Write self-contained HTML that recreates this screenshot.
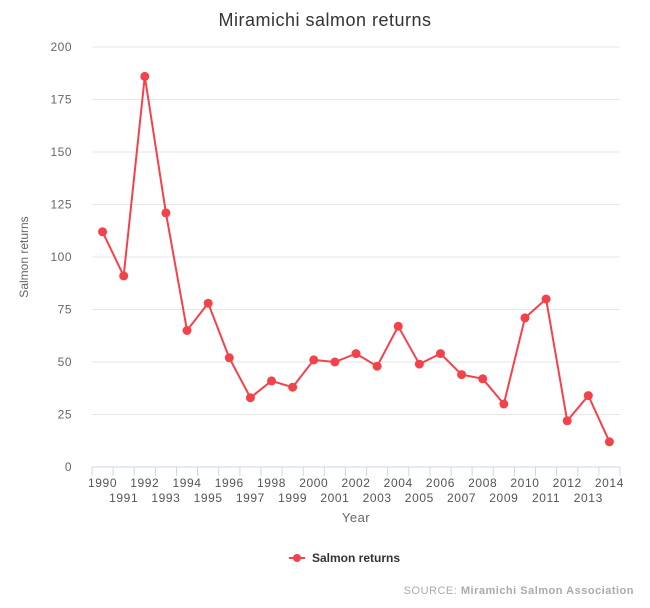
<!DOCTYPE html>
<html><head><meta charset="utf-8"><style>
body{margin:0;background:#fff;}
svg{font-family:"Liberation Sans",sans-serif;display:block;}
</style></head><body>
<svg id="chart" width="650" height="608">
<text x="325" y="26" text-anchor="middle" font-size="18" fill="#333" letter-spacing="0.5">Miramichi salmon returns</text>
<g id="grid"></g>
<g id="yticks"></g>
<g id="xaxis"></g>
<g id="series"></g>
<text transform="translate(28,257) rotate(-90)" text-anchor="middle" font-size="12" fill="#666">Salmon returns</text>
<text x="356" y="522" text-anchor="middle" font-size="13" fill="#666" letter-spacing="0.5">Year</text>
<g>
<line x1="289" y1="558" x2="305" y2="558" stroke="#f4424b" stroke-width="2"/>
<circle cx="297" cy="558" r="4" fill="#f4424b"/>
<text x="312" y="562" font-size="12" font-weight="bold" fill="#333">Salmon returns</text>
</g>
<text x="634" y="594" text-anchor="end" font-size="11" fill="#aaa" letter-spacing="0.5">SOURCE: <tspan font-weight="bold">Miramichi Salmon Association</tspan></text>
</svg>
<script>
const years=[1990,1991,1992,1993,1994,1995,1996,1997,1998,1999,2000,2001,2002,2003,2004,2005,2006,2007,2008,2009,2010,2011,2012,2013,2014];
const returns=[112,91,186,121,65,78,52,33,41,38,51,50,54,48,67,49,54,44,42,30,71,80,22,34,12];
const yTicks=[0,25,50,75,100,125,150,175,200];
const NS="http://www.w3.org/2000/svg";
const x0=92,x1=620,yTop=47,yBot=467,yMax=200;
const bw=(x1-x0)/years.length;
const xs=i=>x0+bw*(i+0.5);
const ys=v=>yBot-(v/yMax)*(yBot-yTop);
function mk(tag,attrs,parent){const e=document.createElementNS(NS,tag);for(const k in attrs)e.setAttribute(k,attrs[k]);parent.appendChild(e);return e;}
const grid=document.getElementById('grid'),yt=document.getElementById('yticks'),xa=document.getElementById('xaxis'),se=document.getElementById('series');
yTicks.forEach(t=>{
 const l=mk('line',{x1:x0,x2:x1,y1:ys(t),y2:ys(t),stroke:'#e6e6e6','stroke-width':1},grid);
 
 
 const tx=mk('text',{x:72,y:ys(t)+4,'text-anchor':'end','font-size':12,fill:'#666','letter-spacing':'0.5'},yt);
 tx.textContent=t;
 
 
});
mk('line',{x1:x0,x2:x1,y1:yBot,y2:yBot,stroke:'#ccd6eb','stroke-width':1},xa);
for(let i=0;i<=years.length;i++){mk('line',{x1:x0+bw*i,x2:x0+bw*i,y1:yBot,y2:yBot+9,stroke:'#ccd6eb','stroke-width':1},xa);}
years.forEach((y,i)=>{
 const tx=mk('text',{x:xs(i),y:i%2===0?487:502,'text-anchor':'middle','font-size':12,fill:'#555','letter-spacing':'0.6'},xa);
 tx.textContent=y;
 
 
});
const pl=mk('polyline',{points:returns.map((v,i)=>xs(i)+','+ys(v)).join(' '),fill:'none',stroke:'#f4424b','stroke-width':2},se);


returns.forEach((v,i)=>{
 const c=mk('circle',{cx:xs(i),cy:ys(v),r:4.5,fill:'#f4424b'},se);
 
 
});
</script>
</body></html>
